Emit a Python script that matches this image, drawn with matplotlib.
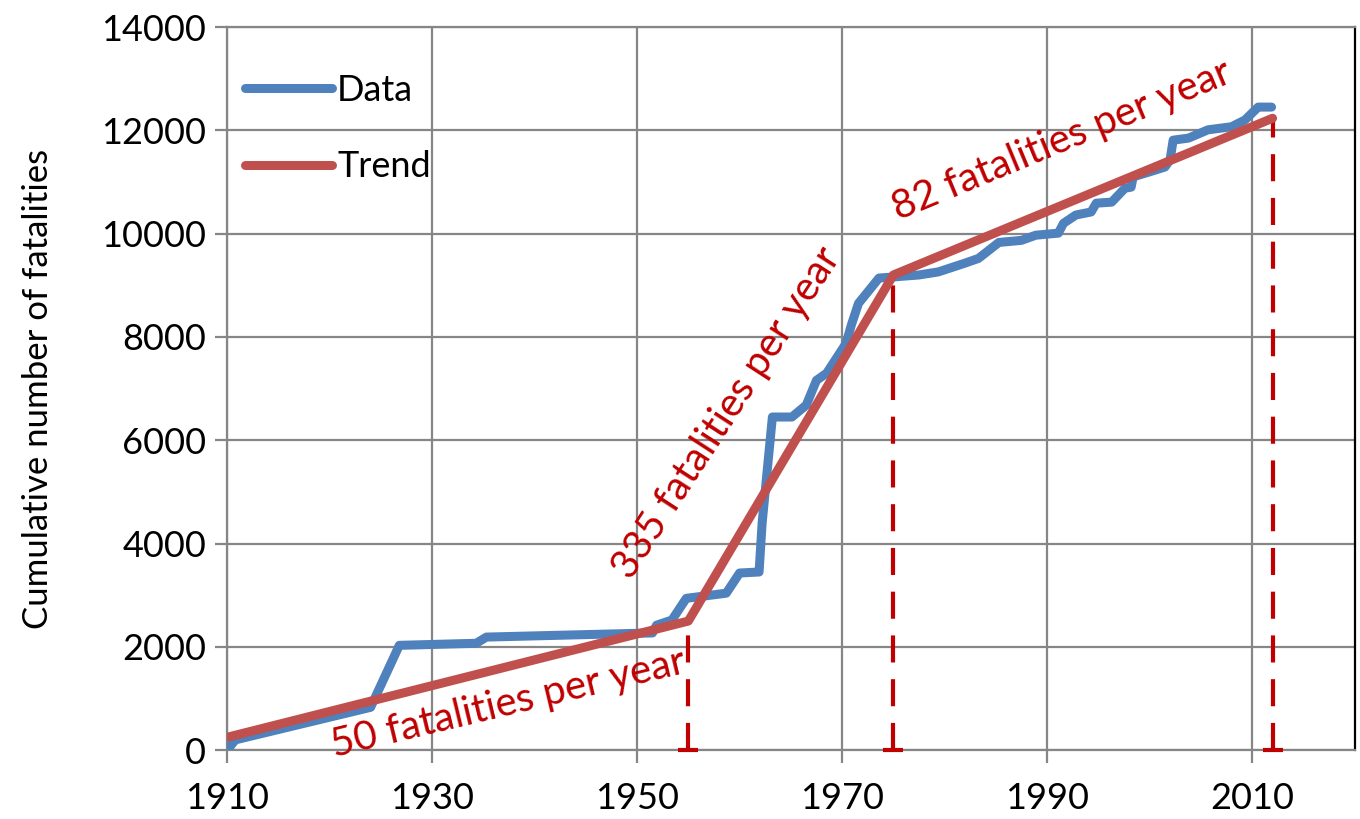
import matplotlib
matplotlib.use("Agg")
from matplotlib import pyplot as plt

# cumulative fatalities
data_years = [1910, 1910.8, 1924, 1926.8, 1934.3, 1935.3, 1951.5, 1951.9, 1953.4,
              1954.8, 1958.7, 1960, 1961.9, 1962.2, 1963.2, 1965.1, 1966.5,
              1967.5, 1968.5, 1970.4, 1970.9, 1971.6, 1973.6, 1977.5, 1979.4,
              1982, 1983.3, 1985.3, 1987.5, 1988.9, 1991.1, 1991.6, 1992.8,
              1994.3, 1994.8, 1996.3, 1997.6, 1998.2, 1998.4, 1999.9, 2001.5,
              2002, 2002.3, 2003.8, 2005.7, 2008, 2009.3, 2010.6, 2011.9]
data_values = [0, 200, 830, 2030, 2070, 2190, 2270, 2420, 2520,
               2940, 3040, 3430, 3450, 4400, 6450, 6450, 6680,
               7160, 7300, 7880, 8230, 8650, 9140, 9200, 9260,
               9430, 9520, 9830, 9870, 9970, 10010, 10200, 10360,
               10420, 10590, 10610, 10880, 10900, 11100, 11190, 11290,
               11430, 11810, 11850, 12010, 12070, 12200, 12450, 12450]

trend_years = [1910, 1955, 1975, 2012]
trend_values = [250, 2500, 9200, 12234]

rate_labels = ["50 fatalities per year", "335 fatalities per year",
               "82 fatalities per year"]

BLUE = "#4F81BD"
RED = "#C0504D"
DARK_RED = "#C00000"
GRID = "#868686"


def main():
    plt.rcParams["font.family"] = ["Lato", "DejaVu Sans"]
    fig = plt.figure(figsize=(13.6, 8.19), dpi=100)
    ax = fig.add_axes([0.167, 0.084, 0.829, 0.883])

    ax.plot(data_years, data_values, color=BLUE, lw=6.5, label="Data",
            solid_capstyle="round", solid_joinstyle="round", zorder=3)

    # dashed markers under each breakpoint of the trend
    for yr, val in zip(trend_years[1:], trend_values[1:]):
        ax.plot([yr, yr], [0, val], color=DARK_RED, lw=3,
                linestyle=(0, (6.5, 4)), zorder=2)
        ax.plot(yr, 0, marker="_", ms=14, mew=3, color=DARK_RED,
                zorder=5, clip_on=False)

    ax.plot(trend_years, trend_values, color=RED, lw=6.5, label="Trend",
            solid_capstyle="round", solid_joinstyle="round", zorder=4)

    # rate annotations
    ax.text(1937.4, 910, rate_labels[0], color=DARK_RED, fontsize=29,
            rotation=13.5, ha="center", va="center", rotation_mode="anchor")
    ax.text(1958.7, 6530, rate_labels[1], color=DARK_RED, fontsize=29,
            rotation=57, ha="center", va="center", rotation_mode="anchor")
    ax.text(1991.4, 11810, rate_labels[2], color=DARK_RED, fontsize=29,
            rotation=22.5, ha="center", va="center", rotation_mode="anchor")

    ax.set_xlim(1910, 2020)
    ax.set_ylim(0, 14000)
    ax.set_xticks(range(1910, 2011, 20))
    ax.set_yticks(range(0, 14001, 2000))
    ax.grid(True, color=GRID, lw=1.6)
    ax.set_axisbelow(True)
    ax.tick_params(labelsize=26, length=9, width=1.6, color=GRID, pad=6)
    ax.tick_params(axis="x", pad=14)

    for side in ["left", "bottom", "top"]:
        ax.spines[side].set_color(GRID)
        ax.spines[side].set_linewidth(1.6)
    ax.spines["right"].set_color("black")
    ax.spines["right"].set_linewidth(1.6)

    ax.set_ylabel("Cumulative number of fatalities", fontsize=25, labelpad=34)

    ax.legend(loc="upper left", bbox_to_anchor=(0.003, 0.955), frameon=False,
              fontsize=26, handlelength=2.4, handletextpad=0.15,
              labelspacing=1.2, borderaxespad=0)

    fig.savefig("out.png", dpi=100)


if __name__ == "__main__":
    main()
